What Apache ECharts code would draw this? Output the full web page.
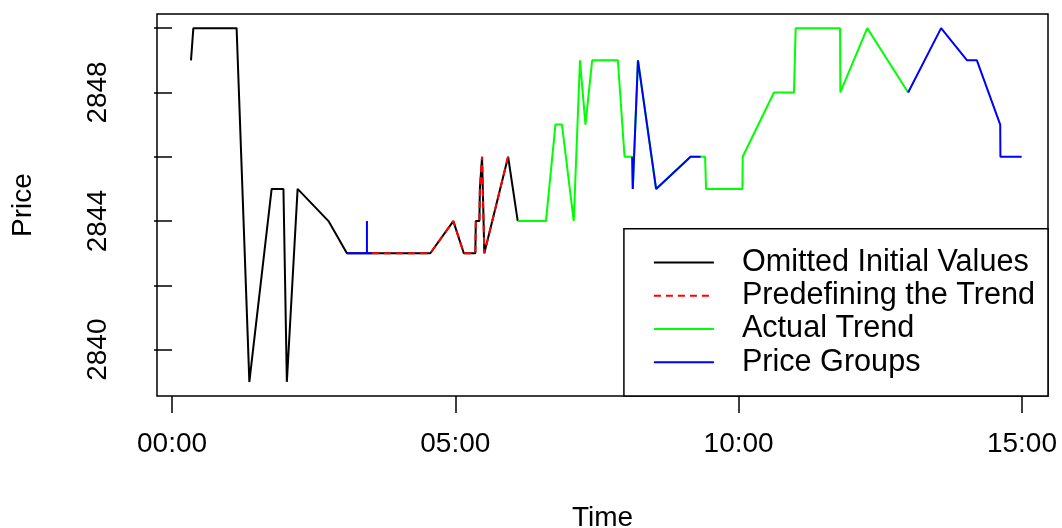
<!DOCTYPE html>
<html>
<head>
<meta charset="utf-8">
<script src="https://cdn.jsdelivr.net/npm/echarts@6/dist/echarts.min.js"></script>
<style>
  html, body { margin: 0; padding: 0; background: #fff; }
  #chart { width: 1062px; height: 528px; }
</style>
</head>
<body>
<div id="chart"></div>
<script>
// time in minutes since 00:00, price in points
const omittedTime = [20.1, 22.6, 68.4, 81.9, 105.5, 118.0, 121.6, 133.0, 165.7, 185.2, 206.4, 211.7, 273.5, 297.9, 309.0, 321.2, 321.7, 325.5, 326.0, 328.3, 330.7, 355.9, 366.1];
const omittedPrice = [2849, 2850, 2850, 2839, 2845, 2845, 2839, 2845, 2844, 2843, 2843, 2843, 2843, 2844, 2843, 2843, 2844, 2844, 2845, 2846, 2843, 2846, 2844];

const predefTime = [211.7, 273.5, 297.9, 309.0, 321.2, 321.7, 325.5, 326.0, 328.3, 330.7, 355.9];
const predefPrice = [2843, 2843, 2844, 2843, 2843, 2844, 2844, 2845, 2846, 2843, 2846];

const trendTime = [366.1, 396.0, 406.0, 412.9, 425.4, 432.0, 437.8, 444.9, 472.1, 479.2, 487.3, 487.9, 493.4, 512.6, 549.1, 559.7, 564.5, 565.5, 604.0, 604.3, 637.4, 658.6, 660.4, 707.4, 707.7, 736.2, 779.5];
const trendPrice = [2844, 2844, 2847, 2847, 2844, 2849, 2847, 2849, 2849, 2846, 2846, 2845, 2849, 2845, 2846, 2846, 2846, 2845, 2845, 2846, 2848, 2848, 2850, 2850, 2848, 2850, 2848];

const group1Time = [185.2, 206.4, 206.4, 206.4, 211.7];
const group1Price = [2843, 2843, 2844, 2843, 2843];
const group2Time = [487.3, 487.9, 493.4, 512.6, 549.1, 559.7];
const group2Price = [2846, 2845, 2849, 2845, 2846, 2846];
const group3Time = [779.5, 814.4, 841.9, 852.3, 877.0, 877.2, 899.7];
const group3Price = [2848, 2850, 2849, 2849, 2847, 2846, 2846];

const xTicks = [0, 300, 600, 900];
const yTicks = [2840, 2842, 2844, 2846, 2848, 2850];
const yLabels = [2840, 2844, 2848];

const pair = (t, p) => t.map((v, i) => [v, p[i]]);
const hhmm = v => {
  const h = Math.floor(v / 60), m = Math.round(v % 60);
  return String(h).padStart(2, '0') + ':' + String(m).padStart(2, '0');
};

const axisFont = { fontFamily: '"Liberation Sans", Arial, sans-serif', fontSize: 28, color: '#000' };

const lineSeries = (name, data, color, extra) => Object.assign({
  name: name,
  type: 'line',
  data: data,
  symbol: 'none',
  lineStyle: { color: color, width: 2 },
  itemStyle: { color: color }
}, extra || {});

const chart = echarts.init(document.getElementById('chart'));
chart.setOption({
  animation: false,
  backgroundColor: '#fff',
  grid: { left: 157, right: 14, top: 14, bottom: 132, show: true, borderColor: '#000', borderWidth: 1.5, containLabel: false, outerBoundsMode: 'none' },
  xAxis: {
    type: 'value',
    min: -15.9,
    max: 927.6,
    name: 'Time',
    nameLocation: 'middle',
    nameGap: 108,
    nameTextStyle: axisFont,
    axisLine: { show: false },
    splitLine: { show: false },
    axisTick: { show: true, length: 17, customValues: xTicks, lineStyle: { color: '#000', width: 1.5 } },
    axisLabel: Object.assign({ customValues: xTicks, margin: 34, formatter: hhmm }, axisFont)
  },
  yAxis: {
    type: 'value',
    min: 2838.56,
    max: 2850.44,
    name: 'Price',
    nameLocation: 'middle',
    nameGap: 120,
    nameTextStyle: axisFont,
    axisLine: { show: false },
    splitLine: { show: false },
    axisTick: { show: true, length: 18, customValues: yTicks, lineStyle: { color: '#000', width: 1.5 } },
    axisLabel: Object.assign({ customValues: yLabels, margin: 45, rotate: 90, formatter: v => String(v) }, axisFont)
  },
  legend: {
    data: ['Omitted Initial Values', 'Predefining the Trend', 'Actual Trend', 'Price Groups'],
    orient: 'vertical',
    right: 14,
    bottom: 132,
    padding: [17, 13, 17, 29],
    itemWidth: 60,
    itemHeight: 14,
    itemGap: 0,
    itemStyle: { opacity: 0 },
    backgroundColor: '#fff',
    borderColor: '#000',
    borderWidth: 1.5,
    borderRadius: 0,
    textStyle: { fontFamily: '"Liberation Sans", Arial, sans-serif', fontSize: 30.6, lineHeight: 33.3, color: '#000', padding: [0, 0, 0, 23] }
  },
  series: [
    lineSeries('Omitted Initial Values', pair(omittedTime, omittedPrice), '#000000'),
    lineSeries('Predefining the Trend', pair(predefTime, predefPrice), '#FF0000', { lineStyle: { color: '#FF0000', width: 2, type: [7, 5] } }),
    lineSeries('Actual Trend', pair(trendTime, trendPrice), '#00FF00'),
    lineSeries('Price Groups', pair(group1Time, group1Price), '#0000FF'),
    lineSeries('Price Groups', pair(group2Time, group2Price), '#0000FF'),
    lineSeries('Price Groups', pair(group3Time, group3Price), '#0000FF')
  ]
});
</script>
</body>
</html>
